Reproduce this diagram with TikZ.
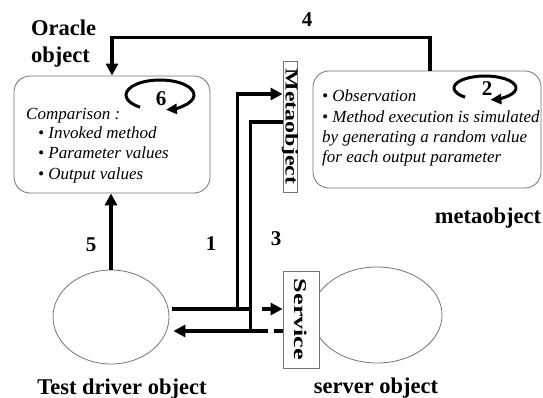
\documentclass[tikz,border=0pt]{standalone}
\usepackage{fontspec}
\setmainfont{Liberation Serif}
\usetikzlibrary{arrows.meta,shapes.geometric,calc}

\begin{document}
\begin{tikzpicture}[x=1pt,y=-1pt,
  conn/.style={line width=3.2pt},
  tip/.style={-{Triangle[length=12pt,width=12pt]}},
  cyc/.style={line width=3pt,-{Triangle[length=11pt,width=10pt]}},
  frame/.style={draw=black!55, line width=0.8pt},
  rbox/.style={frame, rounded corners=16pt, rectangle, fill=white},
  sbox/.style={frame, rectangle, fill=white, inner sep=0pt},
  obj/.style={frame, ellipse, inner sep=0pt},
  num/.style={font=\fontsize{21}{21}\selectfont\bfseries, inner sep=0pt, anchor=base},
  lbl/.style={font=\fontsize{22.5}{22.5}\selectfont\bfseries, inner sep=0pt, anchor=base},
  llbl/.style={lbl, anchor=base west},
  itx/.style={font=\fontsize{17}{17}\selectfont\itshape, inner sep=0pt, anchor=base west},
  vtx/.style={font=\fontsize{18}{18}\selectfont\bfseries, inner sep=0pt, rotate=-90}
]
\useasboundingbox (0,0) rectangle (543,398);

% objects
\node[obj, minimum width=116pt, minimum height=94pt] (drv) at (111,317) {};
\node[obj, minimum width=130pt, minimum height=96pt] (srv) at (377,315) {};
\node[sbox, minimum width=36pt, minimum height=97pt] (svc) at (301,319.5) {};
\node[vtx] (svct) at (svc.center) {\scalebox{1.45}[1]{Service}};

\node[rbox, minimum width=196pt, minimum height=117pt] (oracle) at (112,134.5) {};
\node[rbox, minimum width=228pt, minimum height=117pt] (meta) at (427,129.5) {};
\node[sbox, minimum width=14pt, minimum height=131pt] (mobj) at (290,126.5) {};
\node[vtx] (mobjt) at (mobj.center) {\scalebox{1.33}[1]{Metaobject}};

% captions
\node[llbl] (orc1) at (31,36) {Oracle};
\node[llbl] (orc2) at (31,63) {object};
\node[lbl] (metal) at (488,223) {metaobject};
\node[lbl] (drvl) at (122,394) {Test driver object};
\node[lbl] (srvl) at (376,393) {server object};

% oracle contents
\node[itx] (cmp) at (26,120) {Comparison :};
\node[itx] (cmp1) at (38,139) {\textbullet\ Invoked method};
\node[itx] (cmp2) at (38,159) {\textbullet\ Parameter values};
\node[itx] (cmp3) at (38,180) {\textbullet\ Output values};

% metaobject contents
\node[itx] (obs1) at (322,102) {\textbullet\ Observation};
\node[itx] (obs2) at (322,123) {\textbullet\ Method execution is simulated};
\node[itx] (obs3) at (322,143) {by generating a random value};
\node[itx] (obs4) at (322,163) {for each output parameter};

% cycles
\draw[cyc] (160,95) ++(126:34 and 15) arc[start angle=126, end angle=440, x radius=34, y radius=15];
\node[num] (six) at (161,106) {6};
\draw[cyc] (485,88) ++(130:31 and 12) arc[start angle=130, end angle=440, x radius=31, y radius=12];
\node[num] (two) at (487,96) {2};

% step numbers
\node[num] (n1) at (211,250) {1};
\node[num] (n3) at (276,245) {3};
\node[num] (n4) at (307,27) {4};
\node[num] (n5) at (91,251) {5};

% connector end points
\coordinate (d1) at ($(drv.east)+(3,-8)$);
\coordinate (d3) at ($(drv.east)+(4,14)$);
\coordinate (m1) at ($(mobj.west)+(0,-32.5)$);
\coordinate (m3) at ($(mobj.west)+(0,-4.5)$);
\coordinate (s1) at (svc.west |- d1);
\coordinate (s3) at (svc.west |- d3);

% 1: call redirected to the metaobject
\draw[conn,tip] (d1) -- ++(65,0) |- (m1);
\draw[conn] (d1) -- ++(79,0);
% 3: result returned to the test driver
\draw[conn,tip] (m3) -| ++(-32,209) -- (d3);
% direct service call, intercepted
\draw[conn,tip] ($(s1)+(-21,0)$) -- (s1);
\draw[conn, dash pattern=on 9pt off 6pt on 20pt off 0pt] (s3) -- ++(-32,0);
% 4: metaobject reports to the oracle
\draw[conn,tip] (meta.north) ++(3,0) -- ++(0,-33) -| (oracle.north);
% 5: test driver hands expected values to the oracle
\draw[conn,tip] (drv.north) -- (drv.north |- oracle.south);
\end{tikzpicture}
\end{document}
